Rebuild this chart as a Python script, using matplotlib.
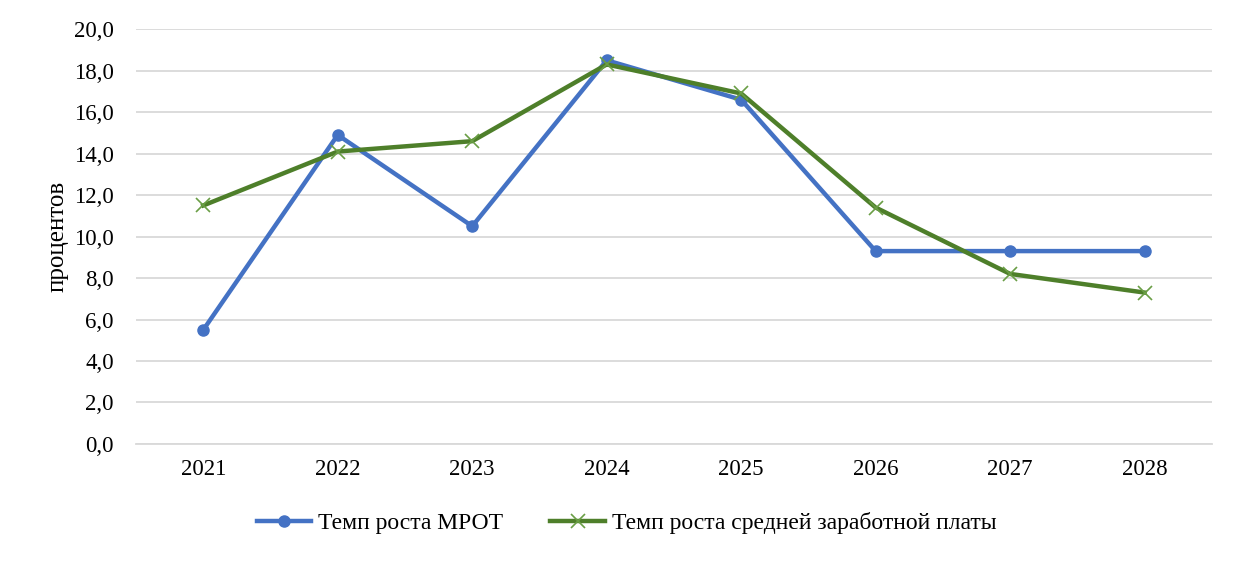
import matplotlib.pyplot as plt
from matplotlib.ticker import FuncFormatter

plt.rcParams['font.family'] = ['Liberation Serif', 'DejaVu Serif']

years = ['2021', '2022', '2023', '2024', '2025', '2026', '2027', '2028']
mrot = [5.5, 14.9, 10.5, 18.5, 16.6, 9.3, 9.3, 9.3]
wage = [11.5, 14.1, 14.6, 18.3, 16.9, 11.4, 8.2, 7.3]

fig = plt.figure(figsize=(12.48, 5.61), dpi=100)
ax = fig.add_axes([0.109, 0.2086, 0.862, 0.7394])

x = range(len(years))
ax.plot(x, mrot, color='#4472C4', lw=3.2, marker='o', ms=8,
        label='Темп роста МРОТ', zorder=3)
ax.plot(x, wage, color='#4E7F2A', lw=3.2, marker='x', ms=10, mew=1.2,
        mec='#6A9E45', label='Темп роста средней заработной платы', zorder=4)

ax.set_xlim(-0.5, len(years) - 0.5)
ax.set_ylim(0, 20)
ax.set_yticks(range(0, 21, 2))
ax.yaxis.set_major_formatter(FuncFormatter(lambda v, p: f'{v:.1f}'.replace('.', ',')))
ax.set_xticks(list(x))
ax.set_xticklabels(years)
ax.grid(axis='y', color='#D9D9D9', lw=1.3)
ax.set_axisbelow(True)
for s in ['top', 'right', 'left']:
    ax.spines[s].set_visible(False)
ax.spines['bottom'].set_color('#D9D9D9')
ax.spines['bottom'].set_linewidth(1.3)
ax.tick_params(length=0, labelsize=16.5, colors='#000000')
ax.tick_params(axis='x', pad=11)
ax.tick_params(axis='y', pad=16)
ax.set_ylabel('процентов', fontsize=18, labelpad=4)

fig.legend(loc='center', bbox_to_anchor=(0.502, 0.068), ncol=2, frameon=False,
           fontsize=17, handlelength=2.3, columnspacing=2.0, handletextpad=0.3)

fig.savefig('out.png', dpi=100)
